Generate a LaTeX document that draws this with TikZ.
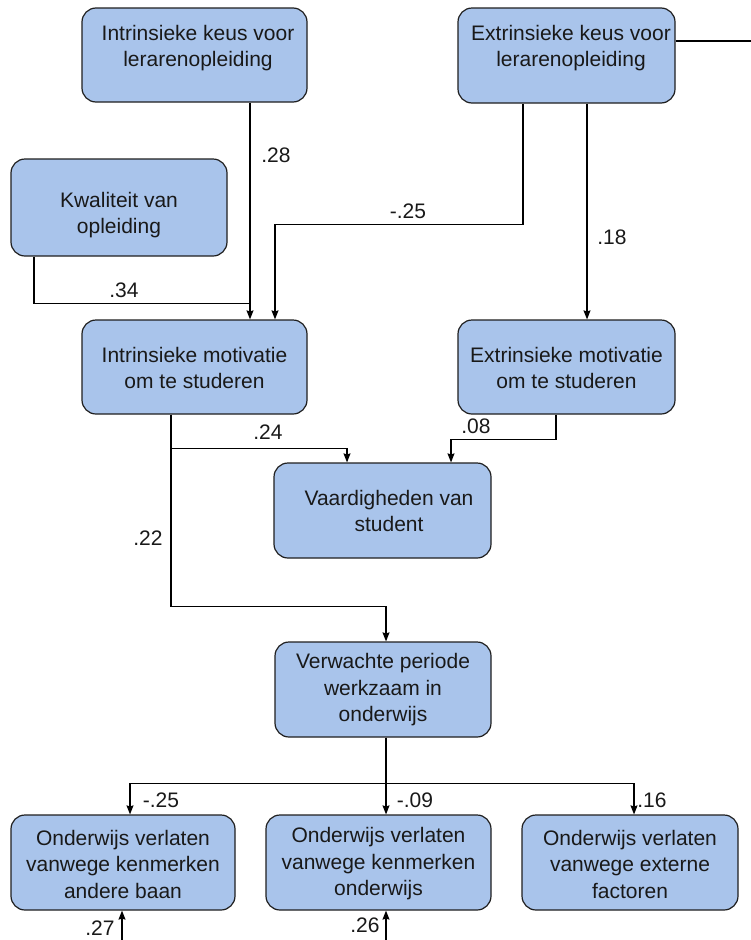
\documentclass[tikz,border=0pt]{standalone}
\usepackage{fontspec}
\setmainfont{Liberation Sans}
\usetikzlibrary{arrows.meta}
\definecolor{boxfill}{HTML}{A9C4EB}
\definecolor{boxline}{HTML}{1F1F1F}
\tikzset{
  box/.style={draw=boxline, fill=boxfill, line width=1.2pt, rounded corners=14pt, inner sep=0pt},
  txt/.style={align=center, font=\fontsize{21}{26.5}\selectfont, inner sep=0pt, text=black!90},
  val/.style={font=\fontsize{21}{24}\selectfont, inner sep=0pt, text=black!90},
  conn/.style={line width=1.2pt, draw=black},
  arr/.style={conn, -{Stealth[length=9pt,width=7pt,inset=1pt]}}
}
\begin{document}
\begin{tikzpicture}[x=1pt,y=-1pt]
\useasboundingbox (0,0) rectangle (751,940);
% boxes
\node[box, minimum width=225pt, minimum height=94pt] (A) at (194.5,55) {};
\node[box, minimum width=217pt, minimum height=95pt] (B) at (566.5,55.5) {};
\node[box, minimum width=216pt, minimum height=97pt] (C) at (119,207.5) {};
\node[box, minimum width=225pt, minimum height=94pt] (D) at (194.5,367) {};
\node[box, minimum width=217pt, minimum height=94pt] (E) at (566.5,367) {};
\node[box, minimum width=217pt, minimum height=95pt] (F) at (382.5,510.5) {};
\node[box, minimum width=216pt, minimum height=95pt] (G) at (383,689.5) {};
\node[box, minimum width=224pt, minimum height=95pt] (H) at (123,862.5) {};
\node[box, minimum width=225pt, minimum height=95pt] (I) at (378.5,862.5) {};
\node[box, minimum width=216pt, minimum height=95pt] (J) at (630,862.5) {};
% texts
\node[txt] (At) at (198,48) {Intrinsieke keus voor\\lerarenopleiding};
\node[txt] (Bt) at (571,48) {Extrinsieke keus voor\\lerarenopleiding};
\node[txt] (Ct) at (119,215) {Kwaliteit van\\opleiding};
\node[txt] (Dt) at (194.5,368) {Intrinsieke motivatie\\om te studeren};
\node[txt] (Et) at (566.5,368) {Extrinsieke motivatie\\om te studeren};
\node[txt] (Ft) at (389,511) {Vaardigheden van\\student};
\node[txt] (Gt) at (383,690) {Verwachte periode\\werkzaam in\\onderwijs};
\node[txt] (Ht) at (123,864) {Onderwijs verlaten\\vanwege kenmerken\\andere baan};
\node[txt] (It) at (378.5,864) {Onderwijs verlaten\\vanwege kenmerken\\onderwijs};
\node[txt] (Jt) at (630,864) {Onderwijs verlaten\\vanwege externe\\factoren};
% free ends
\coordinate (bout) at (751,41);
\coordinate (hin) at (122,940);
\coordinate (iin) at (386,940);
% connectors
\draw[conn] ([yshift=14.5pt]B.east) -- (bout);
\draw[arr] ([xshift=55.5pt]A.south) -- ([xshift=55.5pt]D.north);
\draw[arr] ([xshift=-43.5pt]B.south) -- ++(0,121) -| ([xshift=80.5pt]D.north);
\draw[arr] ([xshift=20.5pt]B.south) -- ([xshift=20.5pt]E.north);
\draw[conn] ([xshift=-85pt]C.south) |- ([xshift=55.5pt,yshift=16pt]D.north);
\draw[arr] ([xshift=-23.5pt]D.south) -- ++(0,34) -| ([xshift=-35.5pt]F.north);
\draw[arr] ([xshift=-10.5pt]E.south) -- ++(0,25) -| ([xshift=68.5pt]F.north);
\draw[arr] ([xshift=-23.5pt]D.south) -- ++(0,192) -| ([xshift=3pt]G.north);
\draw[arr] ([xshift=3pt]G.south) -- ++(0,46) -| ([xshift=7pt]H.north);
\draw[arr] ([xshift=3pt]G.south) -- ++(0,46) -| ([xshift=4pt]J.north);
\draw[arr] ([xshift=3pt]G.south) -- ([xshift=7.5pt]I.north);
\draw[arr] (hin) -- ([xshift=-1pt]H.south);
\draw[arr] (iin) -- ([xshift=7.5pt]I.south);
% values
\node[val] (v1) at (276,155) {.28};
\node[val] (v2) at (408,211) {-.25};
\node[val] (v3) at (612,237) {.18};
\node[val] (v4) at (124,290) {.34};
\node[val] (v5) at (268,432) {.24};
\node[val] (v6) at (476,426) {.08};
\node[val] (v7) at (148,538) {.22};
\node[val] (v8) at (161,800) {-.25};
\node[val] (v9) at (415,800) {-.09};
\node[val] (v10) at (652,800) {.16};
\node[val] (v11) at (100,928) {.27};
\node[val] (v12) at (365,925) {.26};
\end{tikzpicture}
\end{document}
